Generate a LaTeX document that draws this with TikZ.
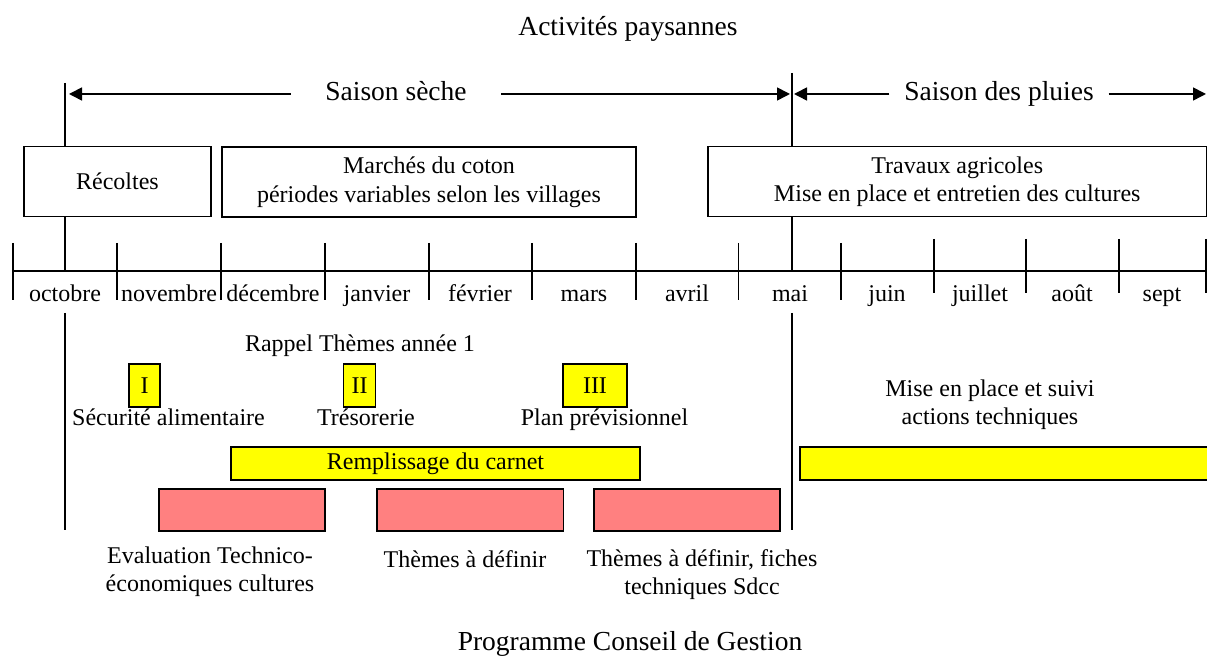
\documentclass[tikz,border=0pt]{standalone}
\usepackage{fontspec}
\setmainfont{Liberation Serif}
\usepackage{xcolor}
\usetikzlibrary{arrows.meta,positioning}
\definecolor{jaune}{RGB}{255,255,0}
\definecolor{rose}{RGB}{255,128,128}

\begin{document}
\begin{tikzpicture}[x=0.5pt,y=-0.5pt,line width=0.8pt,>={Triangle[length=6.5pt,width=6.5pt]},
  txt/.style={font=\fontsize{12}{14.4}\selectfont,inner sep=0pt,align=center},
  grand/.style={font=\fontsize{13.75}{16.5}\selectfont,inner sep=0pt,text height=9.5pt,text depth=2.5pt},
  periode/.style={txt,draw,minimum height=35pt},
  theme/.style={txt,draw,fill=jaune,minimum height=21.5pt},
  barre/.style={draw,fill=rose,minimum width=93pt,minimum height=21pt}]
\useasboundingbox (0,0) rectangle (1207,656);
\node[grand] (titre) at (628,29) {Activités paysannes};
% saisons
\node[grand,inner xsep=17pt] (seche) at (396,94) {Saison sèche};
\node[grand,inner xsep=7pt] (pluies) at (999,94) {Saison des pluies};
\coordinate (octhaut) at (65,83); \coordinate (maihaut) at (792,73);
\coordinate (secheg) at (69,94); \coordinate (seched) at (790,94);
\coordinate (pluiesg) at (794,94); \coordinate (pluiesd) at (1206,94);
\draw[->] (seche.west) -- (secheg); \draw[->] (seche.east) -- (seched);
\draw[->] (pluies.west) -- (pluiesg); \draw[->] (pluies.east) -- (pluiesd);
% activites
\node[periode,minimum width=93.5pt] (recoltes) at (117.5,181.7) {Récoltes};
\node[periode,minimum width=207pt] (marches) at (429,182) {Marchés du coton\\périodes variables selon les villages};
\node[periode,minimum width=249.25pt] (travaux) at (957.25,181.7) {Travaux agricoles\\Mise en place et entretien des cultures};
% axe des mois
\coordinate (axe0) at (13,271); \coordinate (axe1) at (1207,271);
\draw (axe0) -- (axe1);
\foreach \x in {13,117,221,325,429,532,636,738.5,841} \draw (\x,243) -- (\x,300);
\foreach \x in {934,1026,1119,1206} \draw (\x,239) -- (\x,293);
\foreach \x/\m [count=\i] in {65/octobre,169/novembre,273/décembre,377/janvier,480/février,584/mars,
  687/avril,790/mai,887/juin,980/juillet,1072/août,1162/sept}
  \node[txt,anchor=base] (m\i) at (\x,302) {\m};
\draw (octhaut) -- (octhaut |- recoltes.north); \draw (recoltes.south -| octhaut) -- (octhaut |- axe0);
\draw (maihaut) -- (maihaut |- travaux.north); \draw (travaux.south -| maihaut) -- (maihaut |- axe0);
\coordinate (octb1) at (65,313); \coordinate (octb2) at (65,530);
\coordinate (maib1) at (792,313); \coordinate (maib2) at (792,530);
\draw (octb1) -- (octb2); \draw (maib1) -- (maib2);
% programme conseil de gestion
\node[txt,anchor=base] (rappel) at (360,352) {Rappel Thèmes année 1};
\node[theme,minimum width=15.5pt] (thI) at (144.5,385.5) {I};
\node[theme,minimum width=16pt] (thII) at (359.5,385.5) {II};
\node[theme,minimum width=32pt] (thIII) at (595,385.5) {III};
\node[txt,anchor=base] (secu) at (168.5,426) {Sécurité alimentaire};
\node[txt,anchor=base] (treso) at (366,426) {Trésorerie};
\node[txt,anchor=base] (plan) at (604.5,426) {Plan prévisionnel};
\node[txt,anchor=base] (suivi) at (990,425) {Mise en place et suivi\\actions techniques};
\node[txt,draw,fill=jaune,minimum width=204.5pt,minimum height=16.5pt] (carnet) at (435.5,463.5) {Remplissage du carnet};
\node[draw,fill=jaune,minimum width=206pt,minimum height=16.5pt] (actions) at (1006,463.5) {};
\node[barre,minimum width=83.25pt] (b1) at (242,510) {};
\node[barre,minimum width=93.35pt] (b2) at (470.3,510) {};
\node[barre] (b3) at (687,510) {};
\node[txt,anchor=base] (eval) at (210,592) {Evaluation Technico-\\économiques cultures};
\node[txt,anchor=base] (def) at (465,568) {Thèmes à définir};
\node[txt,anchor=base] (sdcc) at (702,595) {Thèmes à définir, fiches\\techniques Sdcc};
\node[grand,anchor=base] (prog) at (630,651) {Programme Conseil de Gestion};
\end{tikzpicture}
\end{document}
